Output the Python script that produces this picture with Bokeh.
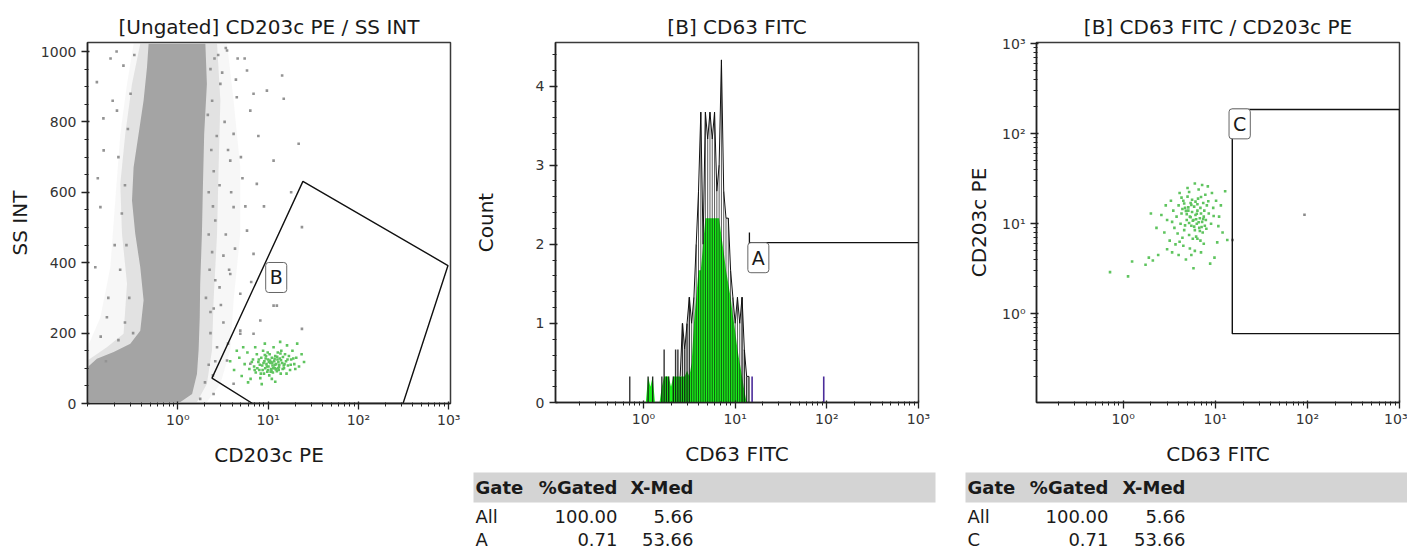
from bokeh.plotting import figure
from bokeh.models import Range1d, FixedTicker, CustomJSTickFormatter, Label
from bokeh.layouts import row, column
from bokeh.embed import file_html
from bokeh.resources import INLINE
from bokeh.core.properties import value

FONT = "DejaVu Sans"

# ---------------- data: panel 1  [Ungated] CD203c PE / SS INT ----------------
# dense cloud outlines (CD203c PE, SS INT)
cloud_core = [(0.100, 4), (0.100, 103), (0.127, 127), (0.195, 146), (0.298, 170), (0.384, 207),
              (0.418, 293), (0.384, 387), (0.338, 482), (0.311, 577), (0.324, 671), (0.368, 766),
              (0.418, 861), (0.456, 955), (0.475, 1022), (2.02, 1022), (2.10, 908), (1.96, 766),
              (1.90, 624), (1.85, 482), (1.77, 340), (1.75, 245), (1.70, 151), (1.63, 84),
              (1.44, 27), (1.07, 4)]
cloud_mid = [(0.100, 4), (0.100, 122), (0.164, 160), (0.251, 198), (0.274, 340), (0.241, 482),
             (0.231, 624), (0.262, 766), (0.311, 908), (0.384, 1022), (2.72, 1022), (2.96, 861),
             (2.83, 671), (2.72, 482), (2.49, 293), (2.39, 151), (2.10, 56), (1.63, 4)]
cloud_halo = [(0.100, 4), (0.100, 160), (0.139, 245), (0.179, 387), (0.203, 577), (0.231, 766),
              (0.274, 908), (0.324, 1022), (3.51, 1022), (4.15, 861), (4.92, 671), (4.92, 482),
              (4.15, 293), (3.81, 151), (2.96, 56), (2.10, 4)]
sparse_events = [(0.127, 913), (5.84, 946), (6.9, 880), (14.3, 932), (14.9, 866), (11.5, 690),
                 (21.8, 738), (23.7, 501), (7.5, 624), (4.15, 558), (5.84, 491), (6.9, 425),
                 (3.81, 368), (4.92, 312), (11.5, 278), (12.5, 278), (8.2, 236), (23.7, 212),
                 (4.92, 207), (2.72, 160), (3.51, 122), (4.15, 56), (2.49, 27), (1.77, 13),
                 (0.139, 558), (0.151, 719), (0.122, 387), (0.164, 245), (0.212, 832), (4.15, 766),
                 (3.51, 1003), (2.96, 908), (6.35, 832), (4.92, 198), (6.9, 198), (6.35, 113),
                 (9.7, 889), (3.81, 690), (3.2, 420), (2.9, 620), (3.3, 800), (4.5, 870),
                 (5.2, 640), (3.0, 280), (2.6, 350), (0.18, 980), (0.13, 640), (0.16, 120),
                 (0.25, 960), (5.5, 980), (7.8, 760), (9.0, 560), (4.6, 980), (3.4, 1010),
                 (18.0, 600), (6.5, 345), (2.8, 990), (3.1, 940), (2.4, 860), (2.7, 760),
                 (3.6, 720), (2.5, 660), (3.9, 600), (2.6, 520), (3.4, 480), (2.4, 430),
                 (3.7, 380), (2.9, 330), (2.5, 270), (3.2, 230), (2.3, 200), (3.6, 170),
                 (0.22, 700), (0.19, 860), (0.24, 540), (0.2, 450), (0.17, 300), (0.23, 380),
                 (0.26, 620), (0.21, 1000), (0.15, 810), (0.28, 780), (2.2, 600), (2.3, 950),
                 (2.25, 380), (2.35, 720), (4.3, 440), (5.0, 700), (4.4, 920), (5.6, 560),
                 (2.15, 820), (2.2, 480), (2.3, 260), (2.05, 300), (2.6, 120), (2.2, 110),
                 (2.45, 80), (2.0, 60), (0.29, 300), (0.27, 450), (0.3, 880), (0.33, 990),
                 (0.26, 230), (0.32, 200), (0.22, 180), (0.14, 190), (2.55, 980), (2.45, 560)]
gateB_events = [(4.2, 95), (4.8, 130), (5.1, 78), (5.5, 112), (5.9, 145), (6.2, 98), (6.4, 70),
                (6.8, 125), (7.0, 105), (7.3, 88), (7.5, 140), (7.8, 118), (8.0, 95), (8.2, 72),
                (8.4, 130), (8.6, 108), (8.8, 150), (9.0, 85), (9.1, 120), (9.3, 100), (9.5, 135),
                (9.6, 112), (9.8, 90), (10.0, 125), (10.1, 105), (10.3, 80), (10.4, 140),
                (10.6, 115), (10.8, 98), (11.0, 130), (11.2, 108), (11.3, 88), (11.5, 160),
                (11.7, 120), (11.9, 100), (12.0, 135), (12.3, 112), (12.5, 92), (12.8, 145),
                (13.0, 118), (13.2, 103), (13.5, 128), (13.8, 85), (14.0, 150), (14.3, 115),
                (14.6, 132), (15.0, 100), (15.4, 140), (15.8, 120), (16.2, 165), (16.6, 108),
                (17.0, 135), (17.5, 95), (18.0, 125), (18.6, 150), (19.5, 112), (20.5, 130),
                (22.0, 105), (23.5, 140), (25.0, 118), (6.0, 60), (8.5, 55), (12.0, 62),
                (9.2, 170), (13.6, 175), (5.3, 160), (3.8, 120), (4.5, 150), (21.0, 170),
                (16.0, 85), (11.0, 70), (7.2, 160), (9.9, 145), (12.7, 125), (10.9, 92),
                (14.9, 108), (8.9, 115), (11.6, 102), (13.1, 95), (10.2, 118), (7.6, 100),
                (8.1, 110), (8.7, 95), (9.4, 128), (9.7, 105), (10.5, 122), (10.7, 90),
                (11.1, 115), (11.4, 100), (11.8, 127), (12.2, 97), (12.6, 133), (13.3, 110),
                (13.9, 123), (14.5, 98), (7.9, 125), (8.3, 85), (9.2, 138), (10.0, 95),
                (10.9, 118), (11.9, 110), (12.9, 100), (13.7, 142), (15.2, 112), (16.4, 125),
                (6.6, 118), (7.1, 95), (17.8, 110), (19.0, 128), (20.0, 98)]
gate_B_pe = [2.39, 24.3, 982, 312, 6.73]
gate_B_ss = [72, 631, 392, 0, 0]

# ---------------- data: panel 2  [B] CD63 FITC histogram ----------------
cd63_bin_log10 = [-0.15, -0.125, -0.1, -0.075, -0.05, -0.025, 0.0, 0.025, 0.05, 0.075, 0.1,
                  0.125, 0.15, 0.175, 0.2, 0.225, 0.25, 0.275, 0.3, 0.325, 0.35, 0.375, 0.4,
                  0.425, 0.45, 0.475, 0.5, 0.525, 0.55, 0.575, 0.6, 0.625, 0.65, 0.675, 0.7,
                  0.725, 0.75, 0.775, 0.8, 0.825, 0.85, 0.875, 0.9, 0.925, 0.95, 0.975, 1.0,
                  1.025, 1.05, 1.075, 1.1, 1.125, 1.15]
count_raw = [0.33, 0, 0, 0, 0, 0, 0, 0, 0.33, 0, 0.33,
             0, 0, 0, 0.33, 0.67, 0.33, 0.33, 0, 0.33, 0.67, 0.67, 0.33,
             1.0, 0.67, 1.0, 1.33, 1.0, 1.33, 2.0, 2.67, 3.67, 2.0, 3.67, 3.33,
             3.67, 3.33, 3.67, 2.67, 3.0, 4.33, 2.67, 2.33, 2.33, 1.67, 1.33, 1.0,
             1.33, 1.0, 1.33, 0.67, 0.33, 0.33]
count_smooth = [0, 0, 0, 0, 0, 0, 0, 0, 0.33, 0.2, 0.33,
                0, 0, 0, 0.2, 0.33, 0.33, 0.33, 0.2, 0.33, 0.33, 0.33, 0.33,
                0.33, 0.33, 0.4, 0.33, 0.5, 1.0, 1.33, 1.67, 1.67, 2.0, 2.33, 2.33,
                2.33, 2.33, 2.33, 2.33, 2.33, 2.1, 1.9, 1.67, 1.5, 1.33, 1.1, 0.9,
                0.67, 0.5, 0.33, 0.15, 0, 0]
gateA_events_cd63 = [15.3, 92.5]
gateA_events_count = [0.33, 0.33]
gate_A_cd63 = [14.3, 1000]
gate_A_count = 2.02

# ---------------- data: panel 3  [B] CD63 FITC / CD203c PE ----------------
b_events = [(4.0, 16), (4.3, 13), (4.5, 18), (4.7, 15), (4.9, 11), (5.0, 20), (5.1, 14),
            (5.3, 12), (5.4, 17), (5.5, 9.5), (5.6, 13.5), (5.8, 11), (5.9, 15.5), (6.0, 8.5),
            (6.1, 12.5), (6.3, 10), (6.4, 14), (6.5, 19), (6.7, 9), (6.8, 11.5), (7.0, 13),
            (7.2, 10.5), (7.3, 8), (7.5, 12), (7.7, 9.5), (7.9, 11), (8.1, 16), (3.8, 12),
            (3.6, 9), (4.2, 10), (4.6, 8.5), (5.2, 7.5), (5.7, 6.8), (4.4, 7), (6.2, 7.2),
            (6.9, 6.5), (7.4, 17), (7.8, 21), (6.6, 24), (5.0, 25), (4.1, 22), (3.5, 14),
            (3.3, 18), (3.0, 11), (2.8, 8), (2.6, 12.5), (2.9, 16), (3.2, 6.5), (8.5, 13),
            (9.0, 10), (9.5, 15), (10.2, 18), (11.0, 12), (12.0, 8), (12.8, 23), (10.5, 6.2),
            (9.8, 4.2), (8.8, 3.6), (7.0, 4.8), (6.0, 5.0), (5.5, 4.5), (5.8, 3.2), (4.8, 4.0),
            (4.0, 4.5), (3.4, 4.8), (2.4, 4.5), (2.1, 3.9), (1.9, 4.2), (1.75, 3.5), (1.25, 3.8),
            (0.72, 2.9), (1.13, 2.6), (2.0, 13), (2.3, 9), (11.5, 16), (13.5, 6.6), (7.2, 27),
            (6.0, 28), (8.3, 26), (9.2, 22), (4.5, 5.7), (5.3, 5.3), (3.7, 5.9), (6.4, 16.5),
            (5.6, 18.5), (4.9, 12.8), (6.9, 15), (7.6, 14), (8.0, 8.8), (5.2, 10.2), (4.3, 19.5),
            (3.9, 7.8), (4.6, 16.8), (5.1, 15.2), (5.5, 16.2), (6.2, 11.2), (6.6, 10.4),
            (7.1, 9.2), (6.3, 12.9), (5.7, 10.8), (4.8, 13.9), (7.4, 11.3), (6.8, 8.3),
            (5.9, 9.3), (5.4, 11.8), (4.4, 14.6), (6.1, 17.6), (7.0, 19.8), (5.2, 22.5),
            (4.7, 9.6), (3.4, 10.5), (8.4, 17.8), (9.6, 12.2), (7.5, 6.0), (6.4, 6.8),
            (4.1, 6.3), (3.0, 5.2), (10.8, 9.4)]
gateC_events = [(15.4, 6.6), (93.0, 12.6)]
gate_C_cd63 = [15.3, 1000]
gate_C_cd203c = [0.60, 186]

# ---------------- data: statistics tables ----------------
table_header = ["Gate", "%Gated", "X-Med"]
table2_gate = ["All", "A"]
table3_gate = ["All", "C"]
table_pct_gated = ["100.00", "0.71"]
table_x_med = ["5.66", "53.66"]

# ---------------- helpers ----------------
GRAY = "#a4a4a4"
GREEN_DOT = "#5fc45f"
INK = "#1a1a1a"


def sup_formatter():
    return CustomJSTickFormatter(code="""
        const s = {"-1": "\u207b\u00b9", "0": "\u2070", "1": "\u00b9", "2": "\u00b2", "3": "\u00b3"};
        const e = Math.round(Math.log10(tick));
        return "10" + s[String(e)];
    """)


def log_ticker(lo_exp, hi_exp):
    majors = [10.0 ** e for e in range(0, hi_exp + 1)]
    minors = [m * 10.0 ** e for e in range(lo_exp, hi_exp) for m in range(1, 10)
              if m != 1 or e < 0]
    return FixedTicker(ticks=majors, minor_ticks=minors)


def style_axis(ax, label, label_standoff, tick_standoff):
    ax.axis_label = label
    ax.axis_label_text_font = FONT
    ax.axis_label_text_font_size = "20px"
    ax.axis_label_text_font_style = "normal"
    ax.axis_label_text_color = INK
    ax.axis_label_standoff = label_standoff
    ax.major_label_text_font = FONT
    ax.major_label_text_font_size = "14px"
    ax.major_label_text_color = "#333333"
    ax.major_label_standoff = tick_standoff
    ax.axis_line_color = "#222222"
    ax.axis_line_width = 1.5
    ax.major_tick_line_color = "#222222"
    ax.major_tick_line_width = 1.3
    ax.minor_tick_line_color = "#222222"
    ax.minor_tick_line_width = 1.0
    ax.major_tick_out = 6
    ax.major_tick_in = 2
    ax.minor_tick_out = 3
    ax.minor_tick_in = 1


def make_fig(title, width, height, xr, yr, x_type, y_type, left, right, top, bottom):
    p = figure(width=width, height=height, title=title,
               x_range=Range1d(*xr), y_range=Range1d(*yr),
               x_axis_type=x_type, y_axis_type=y_type,
               output_backend="svg", toolbar_location=None,
               min_border_left=left, min_border_right=right,
               min_border_top=top, min_border_bottom=bottom)
    p.frame_align = False
    p.title.align = "center"
    p.title.text_font = FONT
    p.title.text_font_size = "20px"
    p.title.text_font_style = "normal"
    p.title.text_color = INK
    p.title.standoff = 8
    p.grid.visible = False
    p.outline_line_color = "#3a3a3a"
    p.outline_line_width = 1.5
    p.background_fill_color = "white"
    p.border_fill_color = "white"
    return p


def gate_label(p, text, x, y):
    p.add_layout(Label(x=x, y=y, text=text, text_align="center", text_baseline="middle",
                       text_font=FONT, text_font_size="19px", text_color=INK,
                       background_fill_color="white", border_line_color="#666666",
                       border_line_width=1, padding=4, border_radius=3))


# ---------------- panel 1 ----------------
p1 = make_fig("[Ungated] CD203c PE / SS INT", 465, 551, (0.1, 1047), (0, 1025.6),
              "log", "linear", 87, 15, 42, 148)
for outline, alpha in ((cloud_halo, 0.09), (cloud_mid, 0.25), (cloud_core, 1.0)):
    p1.patch([a for a, b in outline], [b for a, b in outline], fill_color=GRAY,
             fill_alpha=alpha, line_color=None)
p1.scatter([a for a, b in sparse_events], [b for a, b in sparse_events], marker="square",
           size=2.6, fill_color="#939393", line_color=None)
p1.scatter([a for a, b in gateB_events], [b for a, b in gateB_events], marker="square",
           size=2.6, fill_color=GREEN_DOT, line_color=None)
p1.patch(gate_B_pe, gate_B_ss, fill_color=None, line_color="#111111", line_width=1.4)
gate_label(p1, "B", 12.3, 358)
p1.xaxis[0].ticker = log_ticker(-1, 3)
p1.xaxis[0].formatter = sup_formatter()
p1.yaxis[0].ticker = FixedTicker(ticks=[0, 200, 400, 600, 800, 1000],
                                 minor_ticks=[v * 50 for v in range(0, 21)])
style_axis(p1.xaxis[0], "CD203c PE", 12, 2)
style_axis(p1.yaxis[0], "SS INT", 6, 5)

# ---------------- panel 2 ----------------
p2 = make_fig("[B] CD63 FITC", 485, 468, (0.1096, 1000), (0, 4.55),
              "log", "linear", 90, 32, 42, 65)
cd63 = [10 ** v for v in cd63_bin_log10]
p2.varea(x=cd63, y1=[0] * len(cd63), y2=count_smooth, fill_color="#19f019")
raw_x = [x for x, c in zip(cd63, count_raw) if c > 0]
raw_c = [c for c in count_raw if c > 0]
raw_w = [1.4 if s < 0.5 else 0.8 for s, c in zip(count_smooth, count_raw) if c > 0]
p2.segment(x0=raw_x, y0=[0] * len(raw_x), x1=raw_x, y1=raw_c, line_color="#111111",
           line_width=raw_w, line_alpha=0.85)
dense = [(x, c) for x, v, c in zip(cd63, cd63_bin_log10, count_raw) if 0.4 <= v <= 1.16]
p2.line([a for a, b in dense], [b for a, b in dense], line_color="#111111", line_width=1.0)
p2.segment(x0=gateA_events_cd63, y0=[0, 0], x1=gateA_events_cd63, y1=gateA_events_count,
           line_color="#4b2c9a", line_width=1.6)
p2.line(gate_A_cd63, [gate_A_count, gate_A_count], line_color="#111111", line_width=1.3)
p2.segment(x0=[gate_A_cd63[0]], y0=[gate_A_count - 0.11], x1=[gate_A_cd63[0]],
           y1=[gate_A_count + 0.13], line_color="#111111", line_width=1.3)
gate_label(p2, "A", 17.9, 1.83)
p2.xaxis[0].ticker = log_ticker(-1, 3)
p2.xaxis[0].formatter = sup_formatter()
p2.yaxis[0].ticker = FixedTicker(ticks=[0, 1, 2, 3, 4],
                                 minor_ticks=[v * 0.2 for v in range(0, 23)])
style_axis(p2.xaxis[0], "CD63 FITC", 12, 2)
style_axis(p2.yaxis[0], "Count", 35, 5)

# ---------------- panel 3 ----------------
p3 = make_fig("[B] CD63 FITC / CD203c PE", 457, 468, (0.1146, 1000), (0.103, 1035),
              "log", "log", 86, 8, 42, 65)
p3.scatter([a for a, b in b_events], [b for a, b in b_events], marker="square", size=2.6,
           fill_color=GREEN_DOT, line_color=None)
p3.scatter([a for a, b in gateC_events], [b for a, b in gateC_events], marker="square",
           size=2.6, fill_color="#8a8a8a", line_color=None)
p3.quad(left=[gate_C_cd63[0]], right=[gate_C_cd63[1]], bottom=[gate_C_cd203c[0]],
        top=[gate_C_cd203c[1]], fill_color=None, line_color="#111111", line_width=1.4)
gate_label(p3, "C", 18.4, 129)
p3.xaxis[0].ticker = log_ticker(-1, 3)
p3.xaxis[0].formatter = sup_formatter()
p3.yaxis[0].ticker = log_ticker(-1, 3)
p3.yaxis[0].formatter = sup_formatter()
style_axis(p3.xaxis[0], "CD63 FITC", 12, 2)
style_axis(p3.yaxis[0], "CD203c PE", 8, 5)


# ---------------- tables ----------------
def make_table(width, bar_x0, bar_x1, col_x, gates):
    h = 83
    t = figure(width=width, height=h, x_range=Range1d(0, width), y_range=Range1d(h, 0),
               output_backend="svg", toolbar_location=None, min_border=0,
               x_axis_location=None, y_axis_location=None)
    t.frame_align = False
    t.grid.visible = False
    t.outline_line_color = None
    t.background_fill_color = "white"
    t.border_fill_color = "white"
    t.quad(left=[bar_x0], right=[bar_x1], top=[4], bottom=[34], fill_color="#d4d4d4",
           line_color=None)
    t.text(x=[col_x[0]], y=[19], text=[table_header[0]], text_align="left",
           text_baseline="middle", text_font=value(FONT), text_font_size="18px",
           text_font_style="bold", text_color=INK)
    t.text(x=col_x[1:], y=[19, 19], text=table_header[1:], text_align="right",
           text_baseline="middle", text_font=value(FONT), text_font_size="18px",
           text_font_style="bold", text_color=INK)
    rows_y = [48, 71]
    t.text(x=[col_x[0]] * 2, y=rows_y, text=gates, text_align="left",
           text_baseline="middle", text_font=value(FONT), text_font_size="18px",
           text_color=INK)
    t.text(x=[col_x[1]] * 2, y=rows_y, text=table_pct_gated, text_align="right",
           text_baseline="middle", text_font=value(FONT), text_font_size="18px",
           text_color=INK)
    t.text(x=[col_x[2]] * 2, y=rows_y, text=table_x_med, text_align="right",
           text_baseline="middle", text_font=value(FONT), text_font_size="18px",
           text_color=INK)
    return t


t2 = make_table(485, 8, 470, [10, 152, 228], table2_gate)
t3 = make_table(457, 15, 457, [17, 158, 235], table3_gate)

layout = row(p1, column(p2, t2), column(p3, t3))
open("out.html", "w").write(file_html(layout, INLINE))
